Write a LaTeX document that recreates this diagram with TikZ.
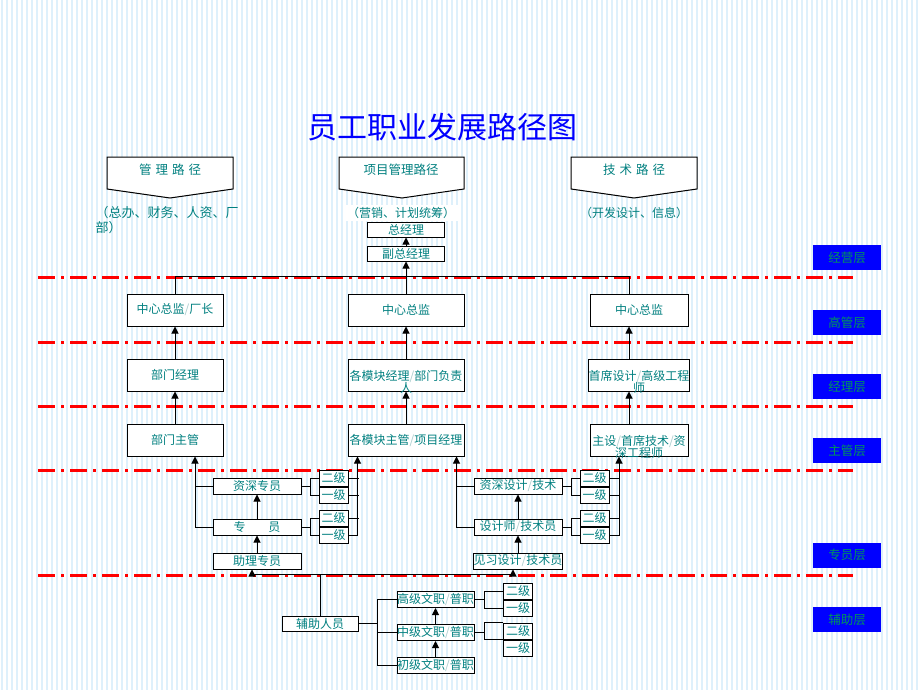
\documentclass[tikz,border=0pt]{standalone}
\usepackage{fontspec}
\setmainfont{Noto Sans CJK SC}
\usetikzlibrary{arrows.meta,positioning,calc}

\definecolor{tealtxt}{RGB}{0,128,128}
\definecolor{slashc}{RGB}{170,205,205}
\definecolor{lyrblue}{RGB}{0,0,255}
\definecolor{lyrgreen}{RGB}{0,150,90}
\definecolor{stripec}{RGB}{222,240,251}

\newcommand\sla{\textcolor{slashc}{/}}
\newcommand\hangtwo[2]{\raisebox{0pt}[\height][0pt]{\begin{tabular}[t]{@{}c@{}}#1\\[-2pt]#2\end{tabular}}}

\tikzset{every picture/.style={line width=1pt}}
\tikzset{
  box/.style={draw, fill=white, inner sep=0pt, text=tealtxt, font=\fontsize{12pt}{13pt}\selectfont},
  bigbox/.style={box, minimum height=32pt},
  midbox/.style={box, minimum width=88pt, minimum height=16pt},
  topbox/.style={box, minimum width=77pt, minimum height=15pt},
  gradebox/.style={box, minimum width=29pt, minimum height=16pt},
  hdrshape/.style={draw, fill=white},
  hdrtext/.style={text=tealtxt, inner sep=0pt, font=\fontsize{12.5pt}{13pt}\selectfont},
  subtext/.style={text=tealtxt, inner sep=0pt, font=\fontsize{12pt}{15pt}\selectfont},
  layer/.style={fill=lyrblue, text=lyrgreen, minimum width=68pt, minimum height=25pt, inner sep=0pt, font=\fontsize{12.5pt}{13pt}\selectfont},
  redcut/.style={red, line width=3pt, dash pattern=on 17pt off 6pt on 3pt off 6pt},
  bgstripe/.style={stripec, line width=2pt},
  uparrow/.style={-{Triangle[width=7pt,length=7pt]}}
}

\begin{document}
\begin{tikzpicture}[x=1pt,y=-1pt]
    % background
    \useasboundingbox (0,0) rectangle (920,690);
    \fill[white] (0,0) rectangle (920,690);
    \foreach \x in {2,7,...,920} \draw[bgstripe] (\x,0) -- (\x,690);

    \node[text=blue, font=\fontsize{30pt}{32pt}\selectfont] (title) at (442,127) {员工职业发展路径图};

    % path headers
    \draw[hdrshape] (107,157) -- (233,157) -- (233,189) -- (170,198) -- (107,189) -- cycle;
    \draw[hdrshape] (339,157) -- (464,157) -- (464,189) -- (402,198) -- (339,189) -- cycle;
    \draw[hdrshape] (571,157) -- (697,157) -- (697,189) -- (634,198) -- (571,189) -- cycle;
    \node[hdrtext] (glhdr) at (170,170) {管\hspace{4pt}理\hspace{4pt}路\hspace{4pt}径};
    \node[hdrtext] (xmhdr) at (401,170) {项目管理路径};
    \node[hdrtext] (jshdr) at (634,170) {技\hspace{4pt}术\hspace{4pt}路\hspace{4pt}径};
    \node[subtext, font=\fontsize{13pt}{15pt}\selectfont, anchor=north west, align=left] (glsub) at (95,206) {（总办、财务、人资、厂\\部）};
    \node[subtext, fill=white, inner xsep=3pt, inner ysep=2pt] (xmsub) at (401,213) {（营销、计划统筹）};
    \node[subtext] (jssub) at (634,213) {（开发设计、信息）};

    % level separators
    \foreach \y in {277,342,406,470,575} \draw[redcut] (38,\y) -- (853,\y);

    \node[layer] (jyc) at (847,257.5) {经营层};
    \node[layer] (ggc) at (847,322.5) {高管层};
    \node[layer] (jlc) at (847,386.5) {经理层};
    \node[layer] (zgc) at (847,450.5) {主管层};
    \node[layer] (zyc) at (847,555) {专员层};
    \node[layer] (fzc) at (847,619.5) {辅助层};

    % top
    \node[topbox] (zjl) at (406,229.5) {总经理};
    \node[topbox, below=8pt of zjl] (fzjl) {副总经理};

    % three columns
    \node[bigbox, minimum width=96pt] (lzj) at (175,310) {中心总监\sla 厂长};
    \node[bigbox, minimum width=96pt, below=32pt of lzj] (ljl) {部门经理};
    \node[bigbox, minimum width=96pt, below=32pt of ljl] (lzg) {部门主管};
    \node[bigbox, minimum width=116pt] (mzj) at (406,310) {中心总监};
    \node[bigbox, minimum width=116pt, below=32pt of mzj] (mjl) {\hangtwo{各模块经理\sla 部门负责}{人}};
    \node[bigbox, minimum width=116pt, below=32pt of mjl] (mzg) {各模块主管\sla 项目经理};
    \node[bigbox, minimum width=98pt] (rzj) at (639,310) {中心总监};
    \node[bigbox, minimum width=98pt, below=32pt of rzj] (rjl) {\hangtwo{首席设计\sla 高级工程}{师}};
    \node[bigbox, minimum width=98pt, below=32pt of rjl] (rzg) {\hangtwo{主设\sla 首席技术\sla 资}{深工程师}};

    \draw[uparrow] (fzjl) -- (zjl);
    \draw[uparrow] (mzj) -- (fzjl);
    \draw (lzj.north) -- ++(0,-17) -| ([xshift=-10pt]rzj.north);
    \draw[uparrow] (ljl) -- (lzj);
    \draw[uparrow] (lzg) -- (ljl);
    \draw[uparrow] (mjl) -- (mzj);
    \draw[uparrow] (mzg) -- (mjl);
    \draw[uparrow] ([xshift=-10pt]rjl.north) -- ([xshift=-10pt]rzj.south);
    \draw[uparrow] ([xshift=-10pt]rzg.north) -- ([xshift=-10pt]rjl.south);

    % staff, left
    \node[midbox] (zszy) at (257,486) {资深专员};
    \node[midbox, below=24pt of zszy] (zy) {专\hspace{23pt}员};
    \node[midbox, below=17pt of zy] (zlzy) {助理专员};
    \node[gradebox] (zs2) at (333.5,478) {二级};
    \node[gradebox, below=0pt of zs2] (zs1) {一级};
    \node[gradebox] (zy2) at (333.5,518) {二级};
    \node[gradebox, below=0pt of zy2] (zy1) {一级};

    \draw (zszy.east) -- ++(9,0) coordinate (zsfork);
    \draw (zs2.west) -| (zsfork) |- (zs1.west);
    \draw (zy.east) -- ++(9,0) coordinate (zyfork);
    \draw (zy2.west) -| (zyfork) |- (zy1.west);
    \draw[uparrow] (zy1.east) -| ([xshift=10pt]mzg.south west);
    \foreach \g in {zs2,zs1,zy2} \draw (\g.east) -- ++(10,0);
    \draw[uparrow] (zy.west) -| ([xshift=20pt]lzg.south);
    \draw (zszy.west) -- ++(-18,0);
    \draw[uparrow] (zy) -- (zszy);
    \draw[uparrow] (zlzy) -- (zy);

    % staff, right
    \node[midbox] (zssj) at (518,486) {资深设计\sla 技术};
    \node[midbox, below=24pt of zssj] (sjs) {设计师\sla 技术员};
    \node[midbox, below=17pt of sjs] (jxsj) {见习设计\sla 技术员};
    \node[gradebox] (ss2) at (594.5,478) {二级};
    \node[gradebox, below=0pt of ss2] (ss1) {一级};
    \node[gradebox] (sj2) at (594.5,518) {二级};
    \node[gradebox, below=0pt of sj2] (sj1) {一级};

    \draw (zssj.east) -- ++(9,0) coordinate (ssfork);
    \draw (ss2.west) -| (ssfork) |- (ss1.west);
    \draw (sjs.east) -- ++(9,0) coordinate (sjfork);
    \draw (sj2.west) -| (sjfork) |- (sj1.west);
    \draw[uparrow] (sj1.east) -| ([xshift=-20pt]rzg.south);
    \foreach \g in {ss2,ss1,sj2} \draw (\g.east) -- ++(10,0);
    \draw[uparrow] (sjs.west) -| ([xshift=-8pt]mzg.south east);
    \draw (zssj.west) -- ++(-18,0);
    \draw[uparrow] (sjs) -- (zssj);
    \draw[uparrow] (jxsj) -- (sjs);

    % support staff
    \node[topbox, minimum width=76pt] (fzry) at (320,623.5) {辅助人员};
    \node[midbox, minimum width=77pt] (gjwz) at (435.5,599.5) {高级文职\sla 普职};
    \node[midbox, minimum width=77pt, below=16pt of gjwz] (zjwz) {中级文职\sla 普职};
    \node[midbox, minimum width=77pt, below=16pt of zjwz] (cjwz) {初级文职\sla 普职};
    \node[gradebox] (gj2) at (518,591) {二级};
    \node[gradebox, below=0pt of gj2] (gj1) {一级};
    \node[gradebox] (zj2) at (518,631) {二级};
    \node[gradebox, below=0pt of zj2] (zj1) {一级};

    \draw (fzry.east) -- ++(19,0) coordinate (fzfork);
    \draw (gjwz.west) -| (fzfork) |- (cjwz.west);
    \draw (zjwz.west) -- (zjwz.west -| fzfork);
    \draw (gjwz.east) -- ++(10,0) coordinate (gjfork);
    \draw (gj2.west) -| (gjfork) |- (gj1.west);
    \draw (zjwz.east) -- ++(10,0) coordinate (zjfork);
    \draw (zj2.north west) -| (zjfork) |- (zj2.south west);
    \draw[uparrow] (cjwz) -- (zjwz);
    \draw[uparrow] (zjwz) -- (gjwz);
    \draw[uparrow] (fzry.north) -- ++(0,-41) -| ([xshift=-5pt]zlzy.south);
    \draw[uparrow] (fzry.north) -- ++(0,-41) -| ([xshift=-5pt]jxsj.south);
\end{tikzpicture}
\end{document}
